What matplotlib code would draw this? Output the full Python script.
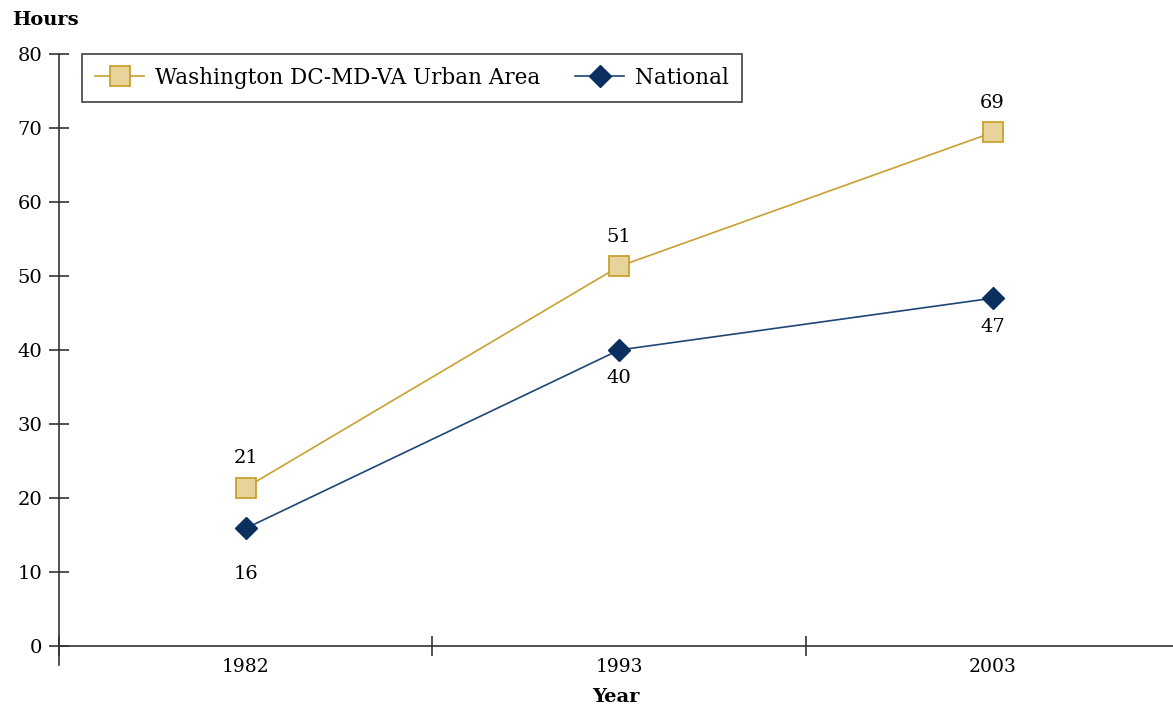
import numpy as np
import matplotlib as mpl
import matplotlib.pyplot as plt
mpl.use('agg')

years = ['1982', '1993', '2003']
washington = [21.4, 51.3, 69.4]
national = [15.9, 40.0, 47.0]
yticks = [0, 10, 20, 30, 40, 50, 60, 70, 80]

mpl.rcParams['font.family'] = 'DejaVu Serif'
mpl.rcParams['font.size'] = 13.5

gold = '#C9A030'
gold_fill = '#E8D49B'
navy = '#0B3060'
navy_line = '#1D4676'

fig = plt.figure(figsize=(11.73, 7.06), dpi=100)
ax = fig.add_axes([59/1173, 1-646/706, 1-59/1173, (646-54)/706])

x = np.arange(len(years))
ax.plot(x, washington, color=gold, lw=1.2, marker='s', ms=14, mfc=gold_fill, mec=gold, mew=1.3,
        label='Washington DC-MD-VA Urban Area')
ax.plot(x, national, color=navy_line, lw=1.2, marker='D', ms=11, mfc=navy, mec=navy,
        label='National')

for xi, v in zip(x, washington):
    ax.annotate(f'{v:.0f}', (xi, v), xytext=(0, 21), textcoords='offset points',
                ha='center', va='center', fontsize=14)
offs = [-33, -20, -21]
for xi, v, o in zip(x, national, offs):
    ax.annotate(f'{v:.0f}', (xi, v), xytext=(0, o), textcoords='offset points',
                ha='center', va='center', fontsize=14)

ax.set_xlim(-0.5, 2.483)
ax.set_ylim(0, 80)
ax.set_yticks(yticks)
ax.set_xticks(x)
ax.set_xticklabels(years)
ax.set_xticks([-0.5, 0.5, 1.5], minor=True)
ax.tick_params(axis='x', which='major', length=0, pad=9, labelsize=13.5)
ax.tick_params(axis='x', which='minor', direction='inout', length=14, width=1.2, color='#333333')
ax.tick_params(axis='y', direction='inout', length=14, width=1.2, color='#333333', labelsize=14, pad=5)
ax.spines['top'].set_visible(False)
ax.spines['right'].set_visible(False)
for s in ['left', 'bottom']:
    ax.spines[s].set_linewidth(1.2)
    ax.spines[s].set_color('#333333')
ax.spines['left'].set_bounds(-2.6, 80)

fig.text(12/1173, 1-20/706, 'Hours', fontweight='bold', fontsize=14, va='center', ha='left')
ax.set_xlabel('Year', fontweight='bold', fontsize=14, labelpad=8)

leg = ax.legend(loc='upper left', bbox_to_anchor=(23/1114, 1.0), ncol=2, frameon=True,
                fancybox=False, edgecolor='#222222', fontsize=15.5, handlelength=2.3,
                columnspacing=1.6, borderpad=0.6, handletextpad=0.5, borderaxespad=0)
leg.get_frame().set_linewidth(1.3)

plt.savefig('out.png', dpi=100)
